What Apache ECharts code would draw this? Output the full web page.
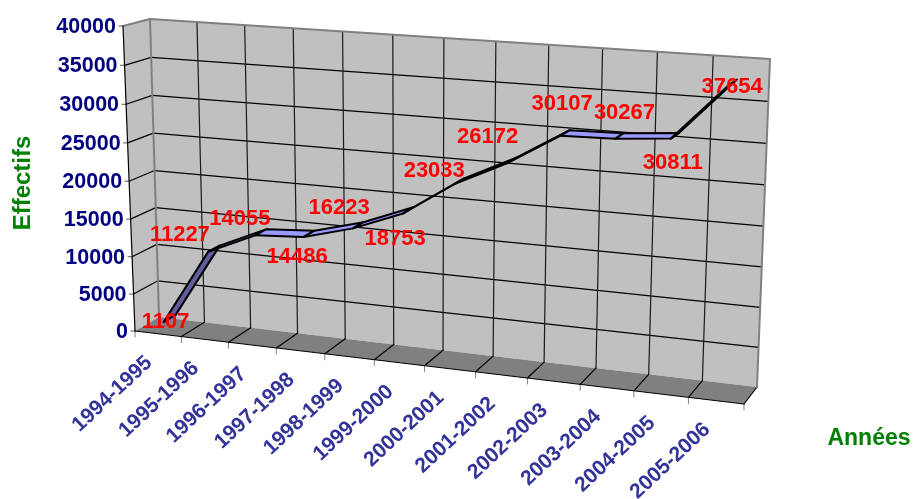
<!DOCTYPE html>
<html>
<head>
<meta charset="utf-8">
<style>html,body{margin:0;padding:0;background:#fff}#chart{width:913px;height:499px}</style>
<script src="https://cdn.jsdelivr.net/npm/echarts@6/dist/echarts.min.js"></script>
</head>
<body>
<div id="chart"></div>
<script>
// Student headcount per academic year
const categories = ['1994-1995','1995-1996','1996-1997','1997-1998','1998-1999','1999-2000',
                    '2000-2001','2001-2002','2002-2003','2003-2004','2004-2005','2005-2006'];
const effectifs = [1107,11227,14055,14486,16223,18753,23033,26172,30107,30267,30811,37654];
const yTicks = [0,5000,10000,15000,20000,25000,30000,35000,40000];

// Where each value label sits relative to its point on the ribbon
const labelNudges = [[-4,3],[-34,-14],[-21,-13],[-12,23],[-19,-17],[-13,29],
                     [-25,-10],[-24,-24],[-3,-29],[5,-23],[-2,27],[-1,5]];

// Corners of the box: [bottom-left, bottom-right, top-right, top-left]
const backWall = [[159,317],[757,387],[770,59],[150,19]];
const frontPlane = [[135,331],[744,404],[755,69],[123,26]];
const RIBBON_BACK = 0.25, RIBBON_FRONT = 0.75;
const FONT = '"Liberation Sans", Arial, sans-serif';

// Projective map from the unit square onto a quadrilateral
function quadMap(q) {
  const [[x0,y0],[x1,y1],[x2,y2],[x3,y3]] = q;
  const dx1=x1-x2, dx2=x3-x2, sx=x0-x1+x2-x3;
  const dy1=y1-y2, dy2=y3-y2, sy=y0-y1+y2-y3;
  const den=dx1*dy2-dx2*dy1;
  const g=(sx*dy2-dx2*sy)/den, h=(dx1*sy-sx*dy1)/den;
  const a=x1-x0+g*x1, b=x3-x0+h*x3, d=y1-y0+g*y1, e=y3-y0+h*y3;
  return (u,v)=>{const w=g*u+h*v+1;return [(a*u+b*v+x0)/w,(d*u+e*v+y0)/w];};
}
const toBack = quadMap(backWall), toFront = quadMap(frontPlane);
function project(u,v,depth){
  const b=toBack(u,v), f=toFront(u,v);
  return [b[0]+(f[0]-b[0])*depth, b[1]+(f[1]-b[1])*depth];
}

const chart = echarts.init(document.getElementById('chart'),null,{renderer:'canvas'});
const W = chart.getWidth(), H = chart.getHeight();

// The hidden cartesian grid fills the page; its scales give unit-square positions
const unit = (api,cat,val)=>{const p=api.coord([cat,val]);return [p[0]/W,1-p[1]/H];};
const seg = (a,b,stroke,lineWidth)=>({type:'line',shape:{x1:a[0],y1:a[1],x2:b[0],y2:b[1]},
  style:{stroke,lineWidth,lineCap:'round'},silent:true});
const poly = (points,fill,stroke,lineWidth)=>({type:'polygon',shape:{points},
  style:{fill,stroke,lineWidth,lineJoin:'round'},silent:true});

function renderBox(params,api){
  const half = api.size([1,0])[0]/2/W;
  const ub = categories.map((c,i)=>unit(api,i,0)[0]-half);
  ub.push(unit(api,categories.length-1,0)[0]+half);
  const kids = [];
  kids.push(poly([project(0,0,0),project(1,0,0),project(1,1,0),project(0,1,0)],'#C0C0C0'));
  kids.push(poly([project(0,0,1),project(0,0,0),project(0,1,0),project(0,1,1)],'#C0C0C0'));
  kids.push(poly([project(0,0,1),project(1,0,1),project(1,0,0),project(0,0,0)],'#808080'));
  yTicks.forEach(t=>{
    const v = unit(api,0,t)[1];
    if (t>0 && t<yTicks[yTicks.length-1]) {
      kids.push(seg(project(0,v,0),project(1,v,0),'#000',1.2));
      kids.push(seg(project(0,v,1),project(0,v,0),'#000',1.2));
    }
    const f = project(0,v,1);
    kids.push(seg(f,[f[0]-4,f[1]],'#555',1));
  });
  ub.slice(1,-1).forEach(u=>{
    kids.push(seg(project(u,0,0),project(u,1,0),'#1a1a1a',1.2));
  });
  ub.forEach((u,i)=>{
    if (i>0) kids.push(seg(project(u,0,0),project(u,0,1),'#000',1.2));
    const f = project(u,0,1);
    kids.push(seg(f,[f[0],f[1]+6],'#808080',1));
  });
  kids.push(seg(project(0,1,1),project(0,1,0),'#808080',2));
  kids.push(seg(project(0,1,0),project(1,1,0),'#808080',2));
  kids.push(seg(project(1,1,0),project(1,0,0),'#808080',2));
  kids.push(seg(project(0,1,0),project(0,0,0),'#808080',2));
  kids.push(seg(project(0,0,1),project(0,1,1),'#000',1.2));
  kids.push(seg(project(0,0,1),project(1,0,1),'#000',1.2));
  return {type:'group',children:kids};
}

function renderRibbon(params,api){
  const i = api.value(0);
  if (i >= effectifs.length-1) return {type:'group',children:[]};
  const [u0,v0] = unit(api,i,api.value(1));
  const [u1,v1] = unit(api,i+1,effectifs[i+1]);
  const a=project(u0,v0,RIBBON_BACK), b=project(u1,v1,RIBBON_BACK),
        c=project(u1,v1,RIBBON_FRONT), d=project(u0,v0,RIBBON_FRONT);
  // Top of the ribbon faces the viewer when the run is flatter than the depth direction
  const run=[b[0]-a[0],b[1]-a[1]], dep=[d[0]-a[0],d[1]-a[1]];
  const topVisible = run[0]*dep[1]-run[1]*dep[0] > 0;
  return poly([a,b,c,d],topVisible?'#9999FF':'#5F5F9E','#000',2);
}

function renderValueLabel(params,api){
  const i = api.value(0), val = api.value(1);
  const [u,v] = unit(api,i,val);
  const p = project(u,v,0.5), n = labelNudges[i];
  return {type:'text',x:p[0]+n[0],y:p[1]+n[1],silent:true,
    style:{text:String(val),fill:'#FF0000',font:'bold 22px '+FONT,textAlign:'center',textVerticalAlign:'middle'}};
}

function renderYLabel(params,api){
  const t = api.value(1);
  const p = project(0,unit(api,0,t)[1],1);
  return {type:'text',x:p[0]-7,y:p[1]+1,silent:true,
    style:{text:String(t),fill:'#000080',font:'bold 21.5px '+FONT,textAlign:'right',textVerticalAlign:'middle'}};
}

function renderCategoryLabel(params,api){
  const i = api.value(0);
  const p = project(unit(api,i,0)[0],0,1);
  return {type:'text',x:p[0]-9,y:p[1]+26,rotation:43*Math.PI/180,silent:true,
    style:{text:categories[i],fill:'#333399',font:'bold 21px '+FONT,textAlign:'right',textVerticalAlign:'middle'}};
}

const customSeries = (name,data,renderItem,z)=>({name,type:'custom',data,renderItem,z,
  coordinateSystem:'cartesian2d',encode:{x:0,y:1},animation:false,silent:true,clip:false});

chart.setOption({
  animation:false,
  backgroundColor:'#fff',
  grid:{left:0,right:0,top:0,bottom:0},
  xAxis:{type:'category',data:categories,show:false},
  yAxis:{type:'value',min:0,max:40000,interval:5000,show:false},
  series:[
    customSeries('Cadre',[[0,0]],renderBox,1),
    customSeries('Axe effectifs',yTicks.map(t=>[0,t]),renderYLabel,2),
    customSeries('Axe années',categories.map((c,i)=>[i,0]),renderCategoryLabel,2),
    customSeries('Effectifs',effectifs.map((v,i)=>[i,v]),renderRibbon,3),
    customSeries('Valeurs',effectifs.map((v,i)=>[i,v]),renderValueLabel,4)
  ],
  graphic:[
    {type:'text',x:23,y:183,rotation:Math.PI/2,silent:true,
     style:{text:'Effectifs',fill:'#008000',font:'bold 24px '+FONT,textAlign:'center',textVerticalAlign:'middle'}},
    {type:'text',x:869,y:439,silent:true,
     style:{text:'Années',fill:'#008000',font:'bold 23px '+FONT,textAlign:'center',textVerticalAlign:'middle'}}
  ]
});
</script>
</body>
</html>
